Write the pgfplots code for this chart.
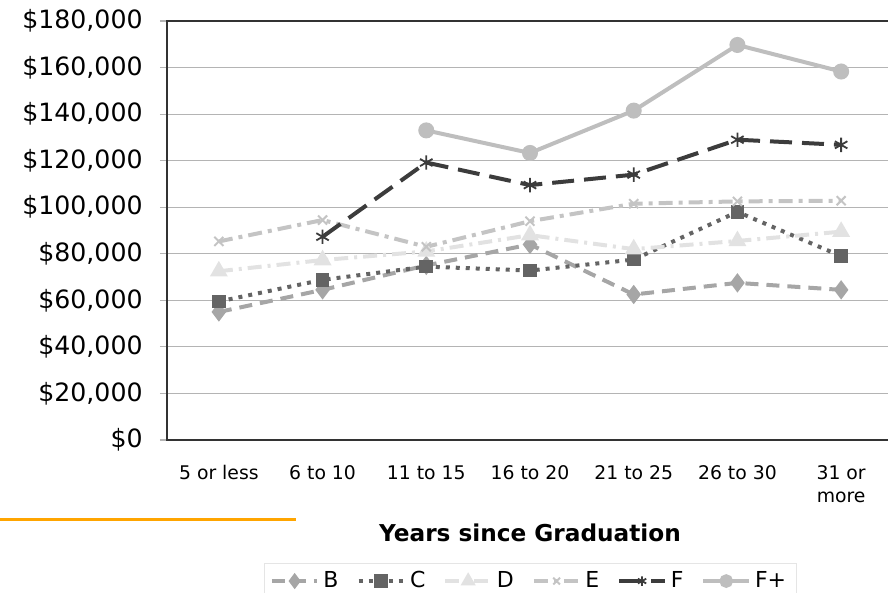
\documentclass[border=0pt]{standalone}
\usepackage{pgfplots}
\pgfplotsset{compat=1.18}
\usepackage{fontspec}
\setmainfont{DejaVu Sans}

\definecolor{cB}{HTML}{A6A6A6}
\definecolor{cC}{HTML}{646464}
\definecolor{cD}{HTML}{E2E2E2}
\definecolor{cE}{HTML}{C4C4C4}
\definecolor{cF}{HTML}{3C3C3C}
\definecolor{cFp}{HTML}{BEBEBE}
\definecolor{gridc}{HTML}{B4B4B4}
\definecolor{orng}{HTML}{FFA500}

\begin{document}
\begin{tikzpicture}
\begin{axis}[
  scale only axis, width=363pt, height=209.5pt,
  xmin=-0.5, xmax=6.5, ymin=0, ymax=180000,
  /pgf/number format/assume math mode=true,
  xtick={0,...,6},
  xticklabels={5 or less, 6 to 10, 11 to 15, 16 to 20, 21 to 25, 26 to 30, {31 or\\more}},
  xticklabel style={font=\fontsize{9.4}{11.5}\selectfont, align=center, anchor=north, yshift=-4.5pt},
  typeset ticklabels with strut,
  major x tick style={draw=none},
  extra x ticks={-0.5,0.5,...,6.5}, extra x tick labels={},
  extra x tick style={grid=none, major tick length=3pt, tick style={gridc, line width=0.6pt}},
  tick align=outside,
  ytick={0,20000,...,180000},
  scaled y ticks=false,
  yticklabel={\$\pgfmathprintnumber[fixed,precision=0,1000 sep={,}]{\tick}},
  yticklabel style={font=\fontsize{12.6}{14}\selectfont, anchor=east, inner sep=0pt, xshift=-8.5pt},
  ytick style={gridc, line width=0.6pt},
  major tick length=3.5pt,
  ymajorgrids, grid style={gridc, line width=0.6pt},
  axis line style={black!80, line width=0.9pt},
  xtick pos=bottom, ytick pos=left,
  xlabel={Years since Graduation},
  xlabel style={at={(axis description cs:0.5,0)}, anchor=center, yshift=-46.5pt, font=\fontsize{11.6}{13}\selectfont\bfseries},
  legend columns=6,
  legend style={at={(0.5,0)}, anchor=north, yshift=-61.5pt, draw=gray!20, font=\fontsize{11}{13}\selectfont,
    inner xsep=3pt, inner ysep=2pt, /tikz/every even column/.append style={column sep=7pt}},
  legend image code/.code={\draw[mark repeat=2,mark phase=2, mark size=2.4pt] plot coordinates {(0cm,0cm) (0.4cm,0cm) (0.8cm,0cm)};},
]
\coordinate (SW) at (rel axis cs:0,0);

\addplot[cB, line width=2pt, dash pattern=on 6.5pt off 4pt, mark=diamond*, mark size=3.2pt, mark options={solid, fill=cB}]
  coordinates {(0,55000)(1,64500)(2,75000)(3,84000)(4,62500)(5,67500)(6,64500)};
\addlegendentry{B}
\addplot[cC, line width=2pt, dash pattern=on 2pt off 3pt, mark=square*, mark size=2.4pt, mark options={solid, fill=cC}]
  coordinates {(0,59500)(1,68800)(2,74500)(3,72800)(4,77500)(5,98000)(6,79000)};
\addlegendentry{C}
\addplot[cD, line width=2pt, dash pattern=on 7pt off 3pt on 1.5pt off 3pt, mark=triangle*, mark size=3.2pt, mark options={solid, fill=cD}]
  coordinates {(0,72500)(1,77300)(2,81000)(3,88000)(4,82000)(5,85500)(6,89500)};
\addlegendentry{D}
\addplot[cE, line width=2pt, dash pattern=on 7pt off 3pt on 2pt off 3pt, mark=x, mark size=3.2pt, mark options={solid, line width=1pt}]
  coordinates {(0,85300)(1,94500)(2,83000)(3,94000)(4,101500)(5,102500)(6,102800)};
\addlegendentry{E}
\addplot[cF, line width=2pt, dash pattern=on 11pt off 5pt, mark=asterisk, mark size=3.6pt, mark options={solid, line width=0.9pt}]
  coordinates {(1,87300)(2,119200)(3,109500)(4,114000)(5,129000)(6,126800)};
\addlegendentry{F}
\addplot[cFp, line width=2pt, mark=*, mark size=3pt, mark options={solid, fill=cFp}]
  coordinates {(2,133000)(3,123300)(4,141500)(5,169700)(6,158300)};
\addlegendentry{F+}
\end{axis}
\draw[orng, line width=1.5pt] ([shift={(-83.5pt,-40pt)}]SW) -- ([shift={(64.5pt,-40pt)}]SW);
\pgfresetboundingbox
\path[use as bounding box] ([shift={(-83.5pt,-76.5pt)}]SW) rectangle ([shift={(360.5pt,220pt)}]SW);
\end{tikzpicture}
\end{document}
